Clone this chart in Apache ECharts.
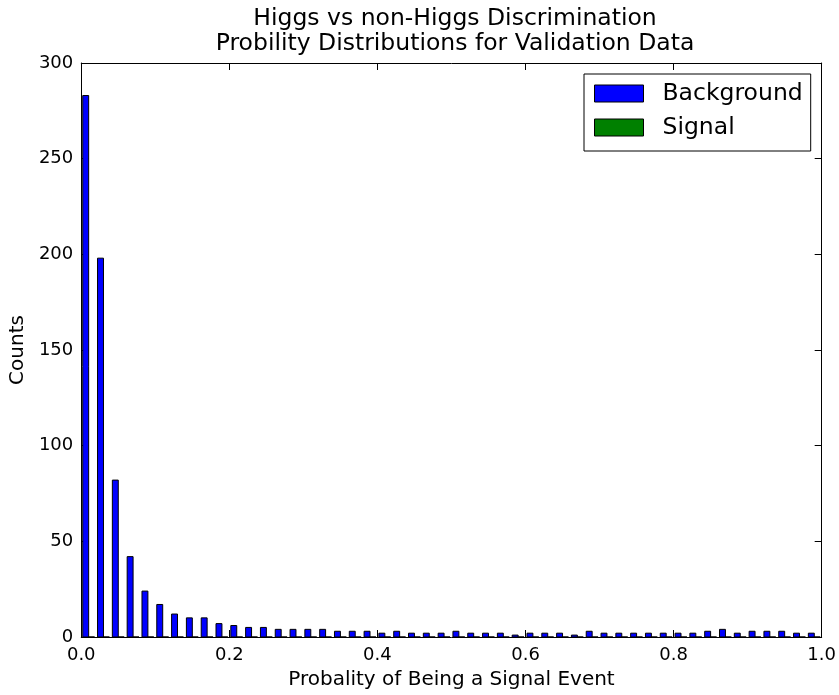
<!DOCTYPE html>
<html>
<head>
<meta charset="utf-8">
<script src="https://cdn.jsdelivr.net/npm/echarts@6/dist/echarts.min.js"></script>
<style>
  html, body { margin: 0; padding: 0; background: #ffffff; }
  #chart { width: 839px; height: 695px; }
</style>
</head>
<body>
<div id="chart"></div>
<script>
// Histogram of classifier output: 50 bins of width 0.02 over [0, 1]
const binWidth = 0.02;
const background = [
  283, 198, 82, 42, 24, 17, 12, 10, 10, 7,
  6, 5, 5, 4, 4, 4, 4, 3, 3, 3,
  2, 3, 2, 2, 2, 3, 2, 2, 2, 1,
  2, 2, 2, 1, 3, 2, 2, 2, 2, 2,
  2, 2, 3, 4, 2, 3, 3, 3, 2, 2
];
const signal = [
  0, 0, 0, 0, 0, 0, 0, 0, 0, 0,
  0, 0, 0, 0, 0, 0, 0, 0, 0, 0,
  0, 0, 0, 0, 0, 0, 0, 0, 0, 0,
  0, 0, 0, 0, 0, 0, 0, 0, 0, 0,
  0, 0, 0, 0, 0, 0, 0, 0, 0, 0
];
const xTicks = [0.0, 0.2, 0.4, 0.6, 0.8, 1.0];
const yTicks = [0, 50, 100, 150, 200, 250, 300];

const FONT = '"DejaVu Sans", "Bitstream Vera Sans", sans-serif';

// Each bin holds two side-by-side bars filling 80% of the bin
function histData(counts) {
  return counts.map((c, i) => [i * binWidth, (i + 1) * binWidth, c]);
}

function makeRender(slot, fill) {
  return function (params, api) {
    const start = api.value(0);
    const end = api.value(1);
    const w = end - start;
    const left = start + w * (0.1 + 0.4 * slot);
    const right = left + w * 0.4;
    const top = api.coord([left, api.value(2)]);
    const base = api.coord([right, 0]);
    return {
      type: 'rect',
      shape: { x: top[0], y: top[1], width: base[0] - top[0], height: base[1] - top[1] },
      style: { fill: fill, stroke: '#000000', lineWidth: 1 }
    };
  };
}

const axisLine = { show: true, onZero: false, lineStyle: { color: '#000000', width: 1 } };
const tickIn = { show: true, inside: true, length: 7, lineStyle: { color: '#000000', width: 1 } };

const chart = echarts.init(document.getElementById('chart'), null, { renderer: 'canvas' });
chart.setOption({
  animation: false,
  backgroundColor: '#ffffff',
  title: {
    text: 'Higgs vs non-Higgs Discrimination\nProbility Distributions for Validation Data',
    left: 450,
    top: 1,
    textAlign: 'center',
    textStyle: { fontFamily: FONT, fontSize: 23.5, fontWeight: 'normal', color: '#000000', lineHeight: 25 }
  },
  legend: {
    orient: 'vertical',
    left: 584,
    top: 74,
    padding: [7.5, 8, 11.5, 10],
    itemWidth: 49,
    itemHeight: 17,
    itemGap: 10,
    borderColor: '#000000',
    borderWidth: 1,
    backgroundColor: '#ffffff',
    icon: 'rect',
    itemStyle: { borderColor: '#000000', borderWidth: 1 },
    textStyle: { fontFamily: FONT, fontSize: 23.5, color: '#000000', padding: [0, 0, 0, 14] },
    data: ['Background', 'Signal']
  },
  grid: { left: 78, right: 16, top: 63, bottom: 56, containLabel: false },
  xAxis: [
    {
      type: 'value', min: xTicks[0], max: xTicks[xTicks.length - 1], interval: 0.2,
      position: 'bottom',
      name: 'Probality of Being a Signal Event', nameLocation: 'middle', nameGap: 33,
      nameTextStyle: { fontFamily: FONT, fontSize: 20, color: '#000000' },
      axisLine: axisLine, axisTick: tickIn, splitLine: { show: false },
      axisLabel: { fontFamily: FONT, fontSize: 18, color: '#000000', margin: 9,
        formatter: v => v.toFixed(1) }
    },
    {
      type: 'value', min: xTicks[0], max: xTicks[xTicks.length - 1], interval: 0.2,
      position: 'top',
      axisLine: axisLine, axisTick: tickIn, splitLine: { show: false },
      axisLabel: { show: false }
    }
  ],
  yAxis: [
    {
      type: 'value', min: yTicks[0], max: yTicks[yTicks.length - 1], interval: 50,
      position: 'left',
      name: 'Counts', nameLocation: 'middle', nameGap: 46,
      nameTextStyle: { fontFamily: FONT, fontSize: 20, color: '#000000' },
      axisLine: axisLine, axisTick: tickIn, splitLine: { show: false },
      axisLabel: { fontFamily: FONT, fontSize: 18, color: '#000000', margin: 8 }
    },
    {
      type: 'value', min: yTicks[0], max: yTicks[yTicks.length - 1], interval: 50,
      position: 'right',
      axisLine: axisLine, axisTick: tickIn, splitLine: { show: false },
      axisLabel: { show: false }
    }
  ],
  series: [
    {
      name: 'Background', type: 'custom', xAxisIndex: 0, yAxisIndex: 0,
      color: '#0000ff',
      itemStyle: { color: '#0000ff', borderColor: '#000000', borderWidth: 1 },
      renderItem: makeRender(0, '#0000ff'),
      encode: { x: [0, 1], y: 2 },
      data: histData(background)
    },
    {
      name: 'Signal', type: 'custom', xAxisIndex: 0, yAxisIndex: 0,
      color: '#008000',
      itemStyle: { color: '#008000', borderColor: '#000000', borderWidth: 1 },
      renderItem: makeRender(1, '#008000'),
      encode: { x: [0, 1], y: 2 },
      data: histData(signal)
    }
  ]
});
</script>
</body>
</html>
